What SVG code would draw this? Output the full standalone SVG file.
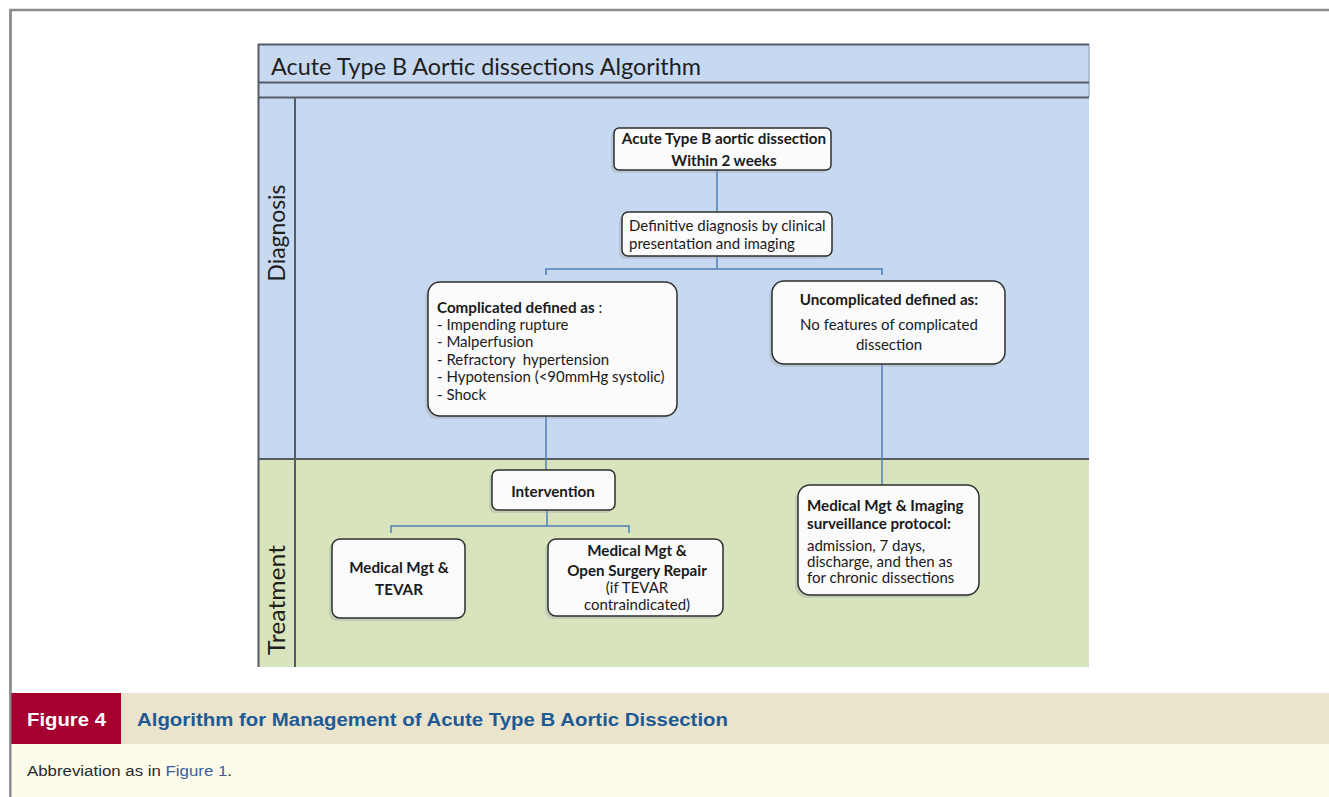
<svg xmlns="http://www.w3.org/2000/svg" width="1329" height="797" viewBox="0 0 1329 797">
<defs>
<style>
.frame{stroke:#8a8a8a;stroke-width:2.5;fill:none}
.lane-line{stroke:#555c66;stroke-width:2;fill:none}
.box{fill:#fbfbfb;stroke:#2e2e2e;stroke-width:1.5}
.shadow{fill:#9aa3a8;opacity:0.35}
.conn{stroke:#4f7fb8;stroke-width:1.5;fill:none}
.t{font-family:Lato,"Open Sans",sans-serif;font-size:15px;fill:#1a1a1a}
.b{font-weight:bold;font-size:15.2px}
.lane{font-family:Lato,"Open Sans",sans-serif;font-size:23px;fill:#1f1f1f}
.cap{font-family:"Liberation Sans",Arial,sans-serif;font-weight:bold}
</style>
</defs>
<rect width="1329" height="797" fill="#ffffff"/>
<!-- outer frame -->
<path class="frame" d="M10.5 797 V10 H1329"/>

<!-- panel backgrounds -->
<g id="panel">
<rect x="258" y="44" width="831" height="53" fill="#c6d9f0"/>
<rect x="258" y="97" width="831" height="362" fill="#c6d9f0"/>
<rect x="258" y="459" width="831" height="208" fill="#d8e4bc"/>
<line x1="1089" y1="44" x2="1089" y2="97" stroke="#9fb0c6" stroke-width="1.5"/>
<line class="lane-line" x1="258" y1="44.5" x2="1089" y2="44.5"/>
<line class="lane-line" x1="258" y1="82.5" x2="1089" y2="82.5"/>
<line class="lane-line" x1="258" y1="97.5" x2="1089" y2="97.5"/>
<line class="lane-line" x1="258" y1="459" x2="1089" y2="459"/>
<line class="lane-line" x1="258.5" y1="44" x2="258.5" y2="667"/>
<line class="lane-line" x1="295" y1="97" x2="295" y2="667"/>
<text class="lane" x="271" y="75" font-size="22" textLength="430" lengthAdjust="spacingAndGlyphs">Acute Type B Aortic dissections Algorithm</text>
<text class="lane" transform="translate(285 233) rotate(-90)" text-anchor="middle" textLength="97" lengthAdjust="spacingAndGlyphs">Diagnosis</text>
<text class="lane" transform="translate(285 600) rotate(-90)" text-anchor="middle" textLength="110" lengthAdjust="spacingAndGlyphs">Treatment</text>
</g>

<!-- connectors -->
<g id="connectors">
<path class="conn" d="M717 170 V212"/>
<path class="conn" d="M717 256 V269 M546 275 V269 H882 V275"/>
<path class="conn" d="M546 416 V470"/>
<path class="conn" d="M547 510 V526 M391 533 V526 H629 V533"/>
<path class="conn" d="M882 364 V485"/>
</g>

<!-- nodes -->
<g id="n-start">
<rect class="shadow" x="611" y="131" width="217" height="42" rx="6"/>
<rect class="box" x="614" y="128" width="217" height="42" rx="5"/>
<text class="t b" x="724" y="144" text-anchor="middle" font-size="14.5">Acute Type B aortic dissection</text>
<text class="t b" x="724" y="166" text-anchor="middle" font-size="14.5">Within 2 weeks</text>
</g>

<g id="n-diag">
<rect class="shadow" x="619" y="215" width="210" height="44" rx="6"/>
<rect class="box" x="622" y="212" width="210" height="44" rx="6"/>
<text class="t" x="629" y="231">Definitive diagnosis by clinical</text>
<text class="t" x="629" y="249">presentation and imaging</text>
</g>

<g id="n-comp">
<rect class="shadow" x="425" y="285" width="249" height="134" rx="12"/>
<rect class="box" x="428" y="282" width="249" height="134" rx="12"/>
<text class="t" x="437" y="313"><tspan class="b">Complicated defined as</tspan> :</text>
<text class="t" x="437" y="330">- Impending rupture</text>
<text class="t" x="437" y="347">- Malperfusion</text>
<text class="t" x="437" y="365" xml:space="preserve">- Refractory  hypertension</text>
<text class="t" x="437" y="382">- Hypotension (&lt;90mmHg systolic)</text>
<text class="t" x="437" y="400">- Shock</text>
</g>

<g id="n-uncomp">
<rect class="shadow" x="769" y="284" width="233" height="83" rx="12"/>
<rect class="box" x="772" y="281" width="233" height="83" rx="12"/>
<text class="t b" x="889" y="305" text-anchor="middle">Uncomplicated defined as:</text>
<text class="t" x="889" y="330" text-anchor="middle">No features of complicated</text>
<text class="t" x="889" y="350" text-anchor="middle">dissection</text>
</g>

<g id="n-interv">
<rect class="shadow" x="489" y="473" width="123" height="40" rx="6"/>
<rect class="box" x="492" y="470" width="123" height="40" rx="6"/>
<text class="t b" x="553" y="497" text-anchor="middle">Intervention</text>
</g>

<g id="n-tevar">
<rect class="shadow" x="329" y="542" width="133" height="79" rx="8"/>
<rect class="box" x="332" y="539" width="133" height="79" rx="8"/>
<text class="t b" x="399" y="573" text-anchor="middle">Medical Mgt &amp;</text>
<text class="t b" x="399" y="595" text-anchor="middle">TEVAR</text>
</g>

<g id="n-open">
<rect class="shadow" x="545" y="542" width="175" height="77" rx="8"/>
<rect class="box" x="548" y="539" width="175" height="77" rx="8"/>
<text class="t b" x="637" y="556" text-anchor="middle">Medical Mgt &amp;</text>
<text class="t b" x="637" y="576" text-anchor="middle">Open Surgery Repair</text>
<text class="t" x="637" y="593" text-anchor="middle">(if TEVAR</text>
<text class="t" x="637" y="610" text-anchor="middle">contraindicated)</text>
</g>

<g id="n-imaging">
<rect class="shadow" x="795" y="488" width="181" height="110" rx="12"/>
<rect class="box" x="798" y="485" width="181" height="110" rx="12"/>
<text class="t b" x="807" y="511">Medical Mgt &amp; Imaging</text>
<text class="t b" x="807" y="529">surveillance protocol:</text>
<text class="t" x="807" y="551">admission, 7 days,</text>
<text class="t" x="807" y="567">discharge, and then as</text>
<text class="t" x="807" y="583">for chronic dissections</text>
</g>

<!-- caption -->
<g id="caption">
<rect x="10" y="693" width="1319" height="51" fill="#ebe4cc"/>
<rect x="10" y="744" width="1319" height="53" fill="#fdfbea"/>
<rect x="10" y="693" width="111" height="51" fill="#a5002f"/>
<text class="cap" x="27" y="726" font-size="18" fill="#ffffff" textLength="79" lengthAdjust="spacingAndGlyphs">Figure 4</text>
<text class="cap" x="137" y="726" font-size="18" fill="#1e5a96" textLength="591" lengthAdjust="spacingAndGlyphs">Algorithm for Management of Acute Type B Aortic Dissection</text>
<text x="27" y="776" font-family="'Liberation Sans',Arial,sans-serif" font-size="14" fill="#2a2a2a" textLength="205" lengthAdjust="spacingAndGlyphs">Abbreviation as in <tspan fill="#3a5f9a">Figure 1</tspan>.</text>
</g>
<line x1="10.5" y1="10" x2="10.5" y2="797" stroke="#8a8a8a" stroke-width="2"/>
</svg>
